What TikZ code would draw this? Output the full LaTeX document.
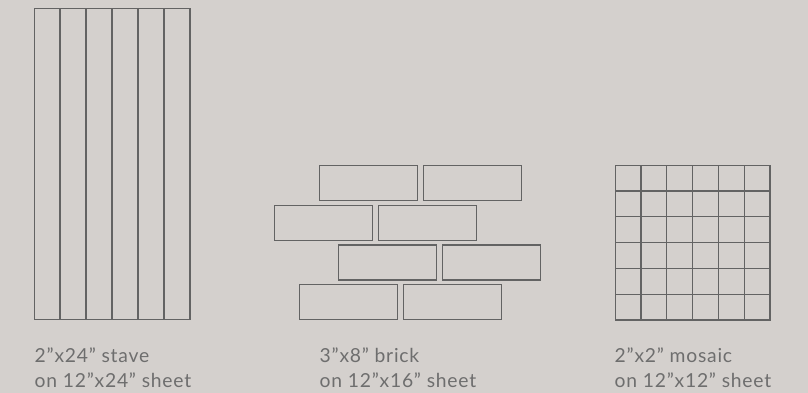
\documentclass[tikz,border=0pt]{standalone}
\usepackage{fontspec}
\setmainfont{Lato}[LetterSpace=4]
\definecolor{bg}{HTML}{D4D0CD}
\definecolor{ln}{HTML}{636363}
\definecolor{tx}{HTML}{6E6E6E}
\tikzset{
  tile/.style={draw=ln, line width=1.2pt},
  lbl/.style={anchor=base west, inner sep=0pt, text=tx, font=\fontsize{19.3}{24}\selectfont},
}
\begin{document}
\begin{tikzpicture}[x=1pt,y=-1pt]
\fill[bg] (0,0) rectangle (808,393);
\useasboundingbox (0,0) rectangle (808,393);
% stave
\foreach \i in {0,...,5}{
  \draw[tile] ({34.7+26*\i},8.7) rectangle ({34.7+26*\i+25.2},319.3);
}
% brick
\foreach \x/\y in {319.3/165.3, 423.3/165.3, 274.7/205.3, 378.7/205.3, 338.3/245, 442.7/245, 299.3/284.7, 403.3/284.7}{
  \draw[tile] (\x,\y) rectangle ({\x+97.8},{\y+35});
}
% mosaic
\draw[tile] (615.3,165.3) rectangle (770,320);
\foreach \i in {1,...,5}{
  \draw[tile] ({615.3+25.78*\i},165.3) -- ({615.3+25.78*\i},320);
  \draw[tile] (615.3,{165.3+25.78*\i}) -- (770,{165.3+25.78*\i});
}
% labels
\node[lbl] (l1a) at (34.5,362.3) {2”x24” stave};
\node[lbl] (l1b) at (34.5,387) {on 12”x24” sheet};
\node[lbl] (l2a) at (319.5,362.3) {3”x8” brick};
\node[lbl] (l2b) at (319.5,387) {on 12”x16” sheet};
\node[lbl] (l3a) at (614.5,362.3) {2”x2” mosaic};
\node[lbl] (l3b) at (614.5,387) {on 12”x12” sheet};
\end{tikzpicture}
\end{document}
